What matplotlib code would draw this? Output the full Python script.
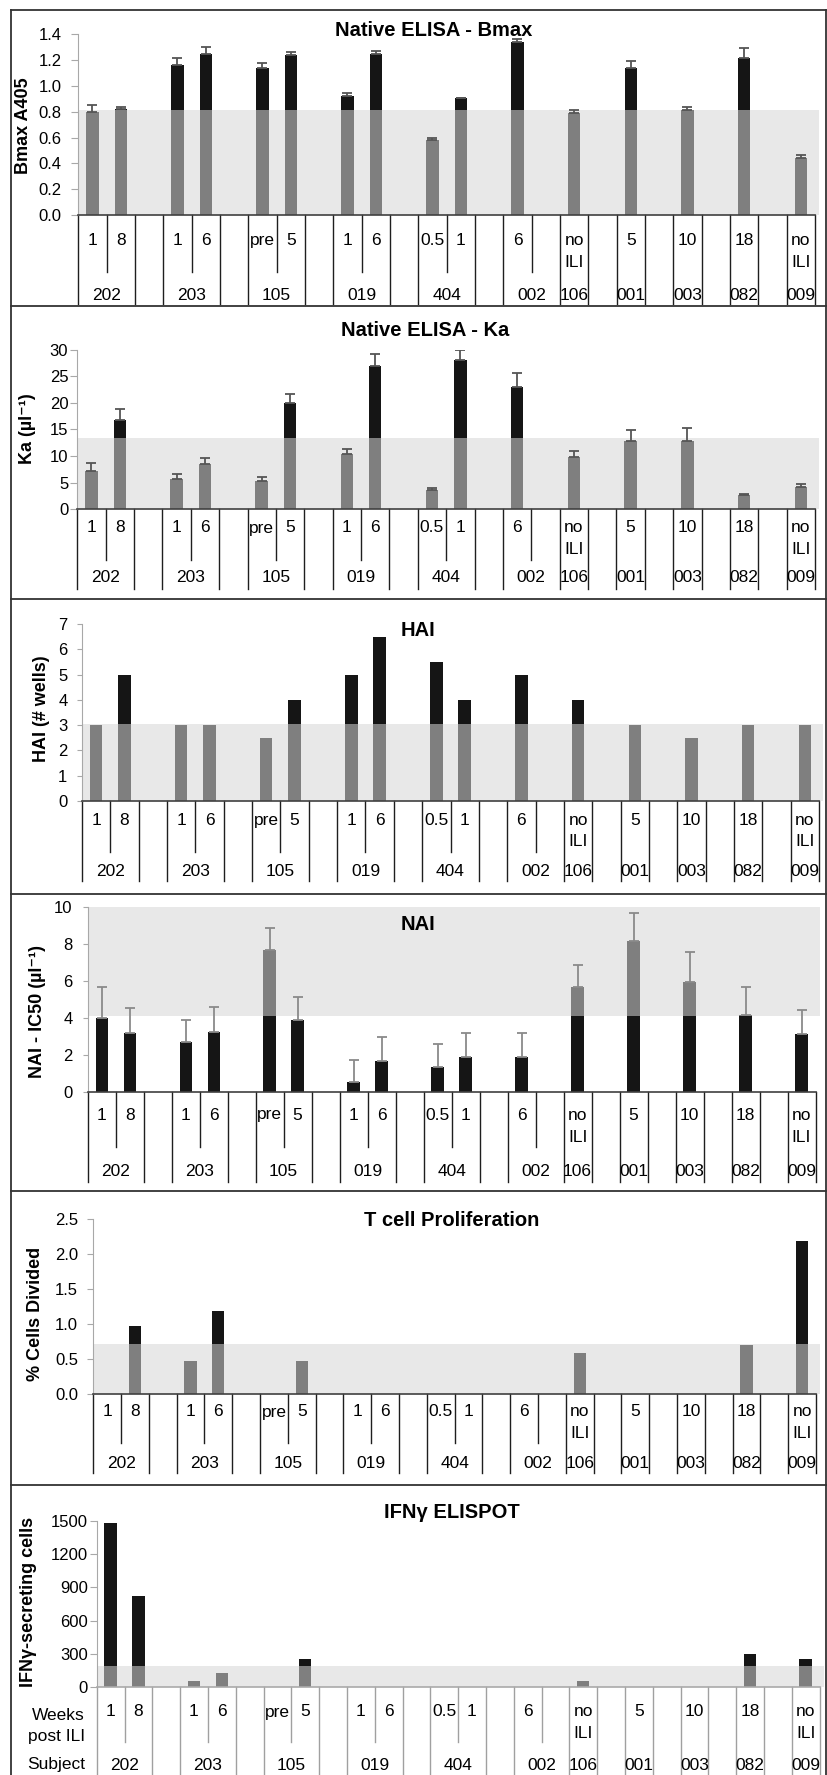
import numpy as np
import matplotlib
matplotlib.use('Agg')
import matplotlib.pyplot as plt
from matplotlib.transforms import blended_transform_factory
from matplotlib.lines import Line2D

plt.rcParams['font.family'] = ['Liberation Sans', 'DejaVu Sans']

nan = np.nan

# category axis (Excel-like two level axis, blank spacer slots included)
weeks = ['1', '8', '', '1', '6', '', 'pre', '5', '', '1', '6', '', '0.5', '1', '',
         '6', '', 'no\nILI', '', '5', '', '10', '', '18', '', 'no\nILI']
subjects = ['202', '202', '', '203', '203', '', '105', '105', '', '019', '019', '',
            '404', '404', '', '002', '002', '106', '', '001', '', '003', '', '082', '', '009']

bmax = [0.80, 0.82, nan, 1.16, 1.25, nan, 1.14, 1.24, nan, 0.92, 1.25, nan, 0.58, 0.91, nan,
        1.34, nan, 0.79, nan, 1.14, nan, 0.81, nan, 1.22, nan, 0.44]
bmax_err = [0.05, 0.02, nan, 0.06, 0.05, nan, 0.04, 0.025, nan, 0.026, 0.023, nan, 0.02, 0.0, nan,
            0.02, nan, 0.02, nan, 0.05, nan, 0.03, nan, 0.07, nan, 0.025]

ka = [7.1, 16.7, nan, 5.7, 8.5, nan, 5.4, 19.9, nan, 10.3, 26.9, nan, 3.7, 28.0, nan,
      23.0, nan, 9.9, nan, 12.8, nan, 12.8, nan, 2.6, nan, 4.2]
ka_err = [1.5, 2.1, nan, 0.9, 1.2, nan, 0.6, 1.7, nan, 1.1, 2.3, nan, 0.3, 1.9, nan,
          2.6, nan, 1.0, nan, 2.1, nan, 2.4, nan, 0.2, nan, 0.6]

hai = [3, 5, nan, 3, 3, nan, 2.5, 4, nan, 5, 6.5, nan, 5.5, 4, nan,
       5, nan, 4, nan, 3, nan, 2.5, nan, 3, nan, 3]

nai = [4.0, 3.15, nan, 2.67, 3.24, nan, 7.66, 3.9, nan, 0.54, 1.68, nan, 1.35, 1.86, nan,
       1.86, nan, 5.64, nan, 8.14, nan, 5.95, nan, 4.14, nan, 3.1]
nai_err = [1.64, 1.35, nan, 1.23, 1.36, nan, 1.17, 1.23, nan, 1.17, 1.29, nan, 1.25, 1.33, nan,
           1.33, nan, 1.21, nan, 1.5, nan, 1.58, nan, 1.5, nan, 1.31]

tcell = [0, 0.98, nan, 0.48, 1.19, nan, 0, 0.48, nan, 0, 0, nan, 0, 0, nan,
         0, nan, 0.59, nan, 0, nan, 0, nan, 0.70, nan, 2.19]

ifn = [1476, 822, nan, 60, 126, nan, 0, 255, nan, 0, 0, nan, 0, 0, nan,
       0, nan, 60, nan, 0, nan, 0, nan, 297, nan, 252]

W, H = 827, 1775
GRAY, BLACK, BAND = '#7f7f7f', '#151515', '#e8e8e8'
FS_TICK, FS_CAT, FS_TITLE, FS_YLAB = 12, 12.5, 14.5, 13


def fx(px):
    return px / W


def fy(py):
    return 1 - py / H


panels = [
    dict(vals=bmax, err=bmax_err, thr=0.81, ymax=1.4, ticks=np.arange(0, 1.41, 0.2), fmt='{:.1f}',
         title='Native ELISA - Bmax', tpos=(434, 31), ylabel='Bmax A405', lpos=(24, 126),
         x=(78.3, 815), y=(215, 34.3), week_y=240.5, subj_y=295, inner_end=272, group_end=304,
         tl=5, pad=7, ecol='#555555'),
    dict(vals=ka, err=ka_err, thr=13.3, ymax=30, ticks=np.arange(0, 31, 5), fmt='{:.0f}',
         title='Native ELISA - Ka', tpos=(425, 331), ylabel='Ka (µl⁻¹)', lpos=(27, 429),
         x=(77.3, 815), y=(509.3, 349.5), week_y=528, subj_y=578, inner_end=560, group_end=589,
         tl=5, pad=1.5, ecol='#555555'),
    dict(vals=hai, err=None, thr=3.05, ymax=7, ticks=np.arange(0, 8, 1), fmt='{:.0f}',
         title='HAI', tpos=(418, 630), ylabel='HAI (# wells)', lpos=(42, 709),
         x=(82, 819), y=(801, 624), week_y=820, subj_y=872, inner_end=852, group_end=881,
         tl=3.5, pad=7, ecol=None),
    dict(vals=nai, err=nai_err, thr=4.1, ymax=10, ticks=np.arange(0, 11, 2), fmt='{:.0f}',
         title='NAI', tpos=(418, 925), ylabel='NAI - IC50 (µl⁻¹)', lpos=(38, 1012),
         x=(87.7, 815.5), y=(1091.7, 906.7), week_y=1115, subj_y=1172, inner_end=1147,
         group_end=1182, tl=3.5, pad=7.5, ecol='#8a8a8a', above=True),
    dict(vals=tcell, err=None, thr=0.715, ymax=2.5, ticks=np.arange(0, 2.51, 0.5), fmt='{:.1f}',
         title='T cell Proliferation', tpos=(452, 1220), ylabel='% Cells Divided', lpos=(36, 1314),
         x=(93.3, 816), y=(1394.3, 1219.3), week_y=1412, subj_y=1463, inner_end=1443,
         group_end=1473, tl=4, pad=7, ecol=None),
    dict(vals=ifn, err=None, thr=195, ymax=1500, ticks=np.arange(0, 1501, 300), fmt='{:.0f}',
         title='IFNγ ELISPOT', tpos=(452, 1513), ylabel='IFNγ-secreting cells', lpos=(29, 1602),
         x=(96.7, 819.5), y=(1687.3, 1520.7), week_y=1712, subj_y=1765, inner_end=1742,
         group_end=1776, tl=5, pad=1.5, ecol=None, light=True),
]

# subject runs -> group boundaries
runs = []
start = 0
for i in range(1, len(subjects) + 1):
    if i == len(subjects) or subjects[i] != subjects[start]:
        runs.append((start, i, subjects[start]))
        start = i
inner = set()
for s, e, lab in runs:
    inner.update(range(s + 1, e))

fig = plt.figure(figsize=(W / 100, H / 100), dpi=100)
n = len(weeks)
xs = np.arange(n) + 0.5

for p in panels:
    x0, x1 = p['x']
    y0, yt = p['y']
    ax = fig.add_axes([fx(x0), fy(y0), fx(x1) - fx(x0), fy(yt) - fy(y0)])
    ax.set_xlim(0, n)
    ax.set_ylim(0, p['ymax'])
    ax.patch.set_alpha(0)
    vals = np.array(p['vals'], float)
    thr = p['thr']
    above = p.get('above', False)
    light = p.get('light', False)
    if above:
        ax.fill_between([0, n + 0.15], thr, p['ymax'], color=BAND, lw=0, zorder=0, clip_on=False)
        c_low, c_high = BLACK, GRAY
    else:
        ax.fill_between([0, n + 0.15], 0, thr, color=BAND, lw=0, zorder=0, clip_on=False)
        c_low, c_high = GRAY, BLACK
    low = np.minimum(vals, thr)
    high = np.where(vals > thr, vals - thr, np.nan)
    ax.bar(xs, low, 0.44, color=c_low, zorder=2)
    ax.bar(xs, high, 0.44, bottom=thr, color=c_high, zorder=2)
    if p['err'] is not None:
        err = np.array(p['err'], float)
        ax.errorbar(xs, vals, yerr=[np.zeros(n), err], fmt='none', ecolor=p['ecol'],
                    elinewidth=1.3, capsize=3.5, capthick=1.3, zorder=3)

    for side in ('top', 'right'):
        ax.spines[side].set_visible(False)
    ax.spines['left'].set_color('#a8a8a8')
    ax.spines['bottom'].set_color('#aaaaaa' if light else '#404040')
    ax.spines['bottom'].set_linewidth(1.2)
    ax.set_xticks([])
    ax.set_yticks(p['ticks'])
    ax.set_yticklabels([p['fmt'].format(t) for t in p['ticks']])
    ax.tick_params(axis='y', length=p['tl'], pad=p['pad'], color='#a8a8a8', labelsize=FS_TICK)

    # two-level category axis
    trans = blended_transform_factory(ax.transData, fig.transFigure)
    lc = '#a0a0a0' if light else '#1e1e1e'
    for b in range(n + 1):
        end = p['inner_end'] if b in inner else p['group_end']
        ax.add_line(Line2D([b, b], [fy(y0), fy(end)], transform=trans, color=lc, lw=1.0,
                           clip_on=False))
    for i, w in enumerate(weeks):
        for k, line in enumerate(w.split('\n')):
            ax.text(i + 0.5, fy(p['week_y'] + k * 22), line, transform=trans, ha='center',
                    va='center', fontsize=FS_CAT, clip_on=False)
    for s, e, lab in runs:
        if lab:
            ax.text((s + e) / 2, fy(p['subj_y']), lab, transform=trans, ha='center',
                    va='center', fontsize=FS_CAT, clip_on=False)

    fig.text(fx(p['tpos'][0]), fy(p['tpos'][1]), p['title'], ha='center', va='center',
             fontsize=FS_TITLE, weight='bold')
    fig.text(fx(p['lpos'][0]), fy(p['lpos'][1]), p['ylabel'], rotation=90, ha='center',
             va='center', fontsize=FS_YLAB, weight='bold')

# row captions of the last panel
fig.text(fx(85), fy(1715), 'Weeks', ha='right', va='center', fontsize=FS_CAT)
fig.text(fx(85), fy(1737), 'post ILI', ha='right', va='center', fontsize=FS_CAT)
fig.text(fx(85), fy(1765), 'Subject', ha='right', va='center', fontsize=FS_CAT)

# panel frames
bc = '#333333'
for yy in [10, 305.5, 599, 893.5, 1190.5, 1484.5]:
    fig.add_artist(Line2D([fx(11), fx(825.5)], [fy(yy), fy(yy)], color=bc, lw=1.3))
for xx in [11, 825.5]:
    fig.add_artist(Line2D([fx(xx), fx(xx)], [fy(10), fy(1776)], color=bc, lw=1.3))

fig.savefig('out.png', dpi=100)
